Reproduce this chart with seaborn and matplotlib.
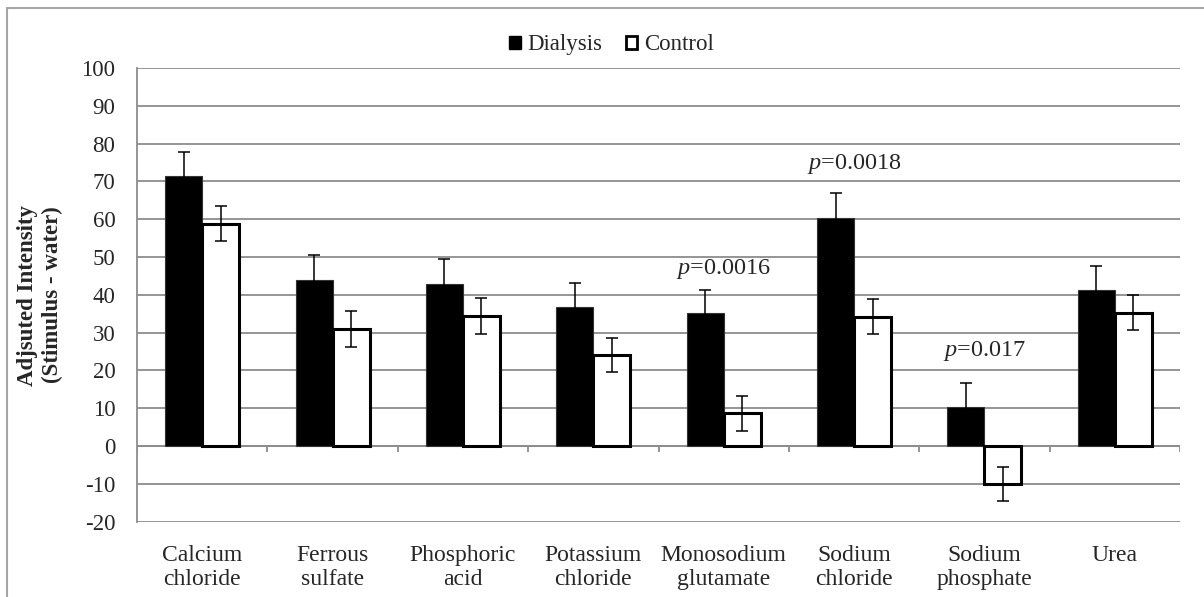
import numpy as np
import pandas as pd
import seaborn as sns
import matplotlib.pyplot as plt
from matplotlib.patches import Patch
from matplotlib.lines import Line2D

# data
categories = ["Calcium\nchloride", "Ferrous\nsulfate", "Phosphoric\nacid", "Potassium\nchloride",
              "Monosodium\nglutamate", "Sodium\nchloride", "Sodium\nphosphate", "Urea"]
groups = ["Dialysis", "Control"]
dialysis = [71.3, 44.0, 42.9, 36.8, 35.1, 60.4, 10.4, 41.3]
dialysis_se = [6.6, 6.5, 6.5, 6.4, 6.3, 6.4, 6.3, 6.3]
control = [58.8, 30.9, 34.4, 24.1, 8.7, 34.2, -10.0, 35.3]
control_se = [4.6, 4.8, 4.8, 4.6, 4.6, 4.6, 4.5, 4.6]
yticks = list(range(-20, 101, 10))

# significance labels
p_labels = ["0.0016", "0.0018", "0.017"]
p_index = [4, 5, 6]
p_y = [45.5, 73.2, 23.7]

df = pd.DataFrame({
    "substance": categories * 2,
    "group": ["Dialysis"] * len(categories) + ["Control"] * len(categories),
    "value": dialysis + control,
})

sns.set_theme(style="white")
plt.rcParams["font.family"] = ["Liberation Serif", "DejaVu Serif"]
plt.rcParams["mathtext.fontset"] = "custom"
plt.rcParams["mathtext.rm"] = "Liberation Serif"
plt.rcParams["mathtext.it"] = "Liberation Serif:italic"
plt.rcParams["axes.unicode_minus"] = False

grid_col = "#8c8c8c"

fig = plt.figure(figsize=(12.04, 5.97), dpi=100)
ax = fig.add_axes([137 / 1204, 1 - 521.6 / 597, (1180 - 137) / 1204, (521.6 - 68) / 597])

sns.barplot(data=df, x="substance", y="value", hue="group", order=categories, hue_order=groups,
            palette={"Dialysis": "black", "Control": "white"}, width=0.567, errorbar=None,
            edgecolor="black", legend=False, ax=ax, zorder=2)

for b in ax.containers[0]:
    b.set_linewidth(0.8)
    b.set_edgecolor("#333333")
for b in ax.containers[1]:
    b.set_linewidth(2.2)

# error bars (standard errors)
for cont, se in zip(ax.containers, [dialysis_se, control_se]):
    xs = [b.get_x() + b.get_width() / 2 for b in cont]
    ys = [b.get_y() + b.get_height() for b in cont]
    ax.errorbar(xs, ys, yerr=se, fmt="none", ecolor="black", elinewidth=1.1,
                capsize=4.5, capthick=1.1, zorder=3)

ax.set_xlim(-0.5, len(categories) - 0.5)
ax.set_ylim(-20, 100)
ax.set_yticks(yticks)
ax.set_xlabel("")
ax.set_ylabel("")
ax.yaxis.grid(True, color=grid_col, linewidth=1.3)
ax.set_axisbelow(True)

for s in ["top", "right", "bottom"]:
    ax.spines[s].set_visible(False)
ax.spines["left"].set_color(grid_col)
ax.spines["left"].set_linewidth(1.3)

# category axis at zero with tick marks between groups
ax.axhline(0, color=grid_col, linewidth=1.3, zorder=1)
ax.vlines(np.arange(len(categories) + 1) - 0.5, -1.7, 0, color=grid_col, linewidth=1.3, zorder=1)

ax.tick_params(axis="y", length=6.5, width=1.3, color=grid_col, pad=9, labelsize=16.5)
ax.tick_params(axis="x", length=0, pad=17, labelsize=17)

for lab, i, y in zip(p_labels, p_index, p_y):
    ax.text(i, y, "$p$=" + lab, ha="center", va="baseline", fontsize=17.5)

fig.text(40 / 1204, 1 - 295 / 597, "Adjsuted Intensity\n(Stimulus - water)", rotation=90,
         ha="center", va="center", multialignment="center", fontsize=16.5, fontweight="bold")

handles = [Patch(facecolor="black", edgecolor="black"),
           Patch(facecolor="white", edgecolor="black", linewidth=2)]
fig.legend(handles, groups, loc="center", bbox_to_anchor=(0.508, 0.925), ncol=2, frameon=False,
           fontsize=16.5, handlelength=0.5, handleheight=0.5, handletextpad=0.3, columnspacing=1.0)

# chart frame (top and left edges visible)
fig.add_artist(Line2D([7 / 1204, 1], [1 - 8 / 597, 1 - 8 / 597], transform=fig.transFigure,
                      color="#a6a6a6", linewidth=1.5))
fig.add_artist(Line2D([7 / 1204, 7 / 1204], [0, 1 - 8 / 597], transform=fig.transFigure,
                      color="#a6a6a6", linewidth=1.5))

fig.savefig("out.png", dpi=100)
